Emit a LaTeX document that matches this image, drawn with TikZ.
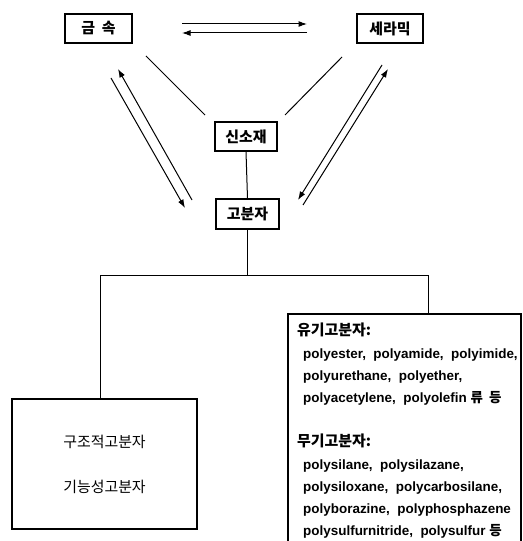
\documentclass[tikz,border=0pt]{standalone}
\usepackage{fontspec}
\setmainfont{Liberation Sans}
\newfontfamily\kr{Noto Sans CJK KR}
\usetikzlibrary{arrows.meta}
\begin{document}
\begin{tikzpicture}[x=1bp,y=-1bp,
  box/.style={draw,line width=1.2bp,inner sep=0pt,font=\kr\bfseries\fontsize{15}{17}\selectfont},
  link/.style={line width=1bp},
  arr/.style={line width=1bp,-{Latex[length=8.5bp,width=6bp]}}]
\useasboundingbox (0,0) rectangle (523,541);
% top boxes
\node[box,minimum width=67bp,minimum height=29bp] (metal) at (98.5,28.5) {금\hspace{0.45em}속};
\node[box,minimum width=66bp,minimum height=29bp] (ceram) at (390,28.5) {세라믹};
\node[box,minimum width=62bp,minimum height=29bp] (new) at (246,136.5) {신소재};
\node[box,minimum width=63bp,minimum height=30bp] (poly) at (247.5,214) {고분자};
% horizontal double arrows
\coordinate (h1a) at (182,24); \coordinate (h1b) at (307,24);
\coordinate (h2a) at (307,33); \coordinate (h2b) at (182,33);
\draw[arr] (h1a) -- (h1b);
\draw[arr] (h2a) -- (h2b);
% lines to 신소재
\coordinate (m1) at (146,56); \coordinate (m2) at (205,115);
\coordinate (c1) at (342,57); \coordinate (c2) at (285,115);
\draw[link] (m1) -- (m2);
\draw[link] (c1) -- (c2);
\draw[link] (new.south) -- (poly.north);
% left double arrows
\coordinate (l1a) at (111,78); \coordinate (l1b) at (185,208);
\coordinate (l2a) at (192,200); \coordinate (l2b) at (118,69);
\draw[arr] (l1a) -- (l1b);
\draw[arr] (l2a) -- (l2b);
% right double arrows
\coordinate (r1a) at (382,65); \coordinate (r1b) at (298,200);
\coordinate (r2a) at (303,205); \coordinate (r2b) at (388,69);
\draw[arr] (r1a) -- (r1b);
\draw[arr] (r2a) -- (r2b);
% tree
\coordinate (lt) at (100,275); \coordinate (rt) at (428,275);
\draw[link] (poly.south) -- (poly.south |- lt);
\draw[link] (lt) -- (rt);
% left box
\node[draw,line width=1.2bp,minimum width=185bp,minimum height=130bp,inner sep=0pt,
      align=center,font=\kr\fontsize{15}{45}\selectfont] (struct) at (104.5,464)
      {구조적고분자\\기능성고분자};
\draw[link] (lt) -- (lt |- struct.north);
% right (open) box
\coordinate (ortop) at (428,314);
\draw[link] (rt) -- (ortop);
\draw[line width=1.2bp] (288,541) -- (288,314) -- (521,314) -- (521,541);
\node[anchor=north west,inner sep=0pt,align=left,
      font=\bfseries\fontsize{13.5}{22.3}\selectfont] (orgtext) at (297,323)
{{\kr\fontsize{15}{22.3}\selectfont 유기고분자:}\\
\hspace*{6bp}polyester,\ \ polyamide,\ \ polyimide,\\
\hspace*{6bp}polyurethane,\ \ polyether,\\
\hspace*{6bp}polyacetylene,\ \ polyolefin {\kr 류\ \ 등}\\[22.3bp]
{\kr\fontsize{15}{22.3}\selectfont 무기고분자:}\\
\hspace*{6bp}polysilane,\ \ polysilazane,\\
\hspace*{6bp}polysiloxane,\ \ polycarbosilane,\\
\hspace*{6bp}polyborazine,\ \ polyphosphazene\\
\hspace*{6bp}polysulfurnitride,\ \ polysulfur {\kr 등}};
\end{tikzpicture}
\end{document}
